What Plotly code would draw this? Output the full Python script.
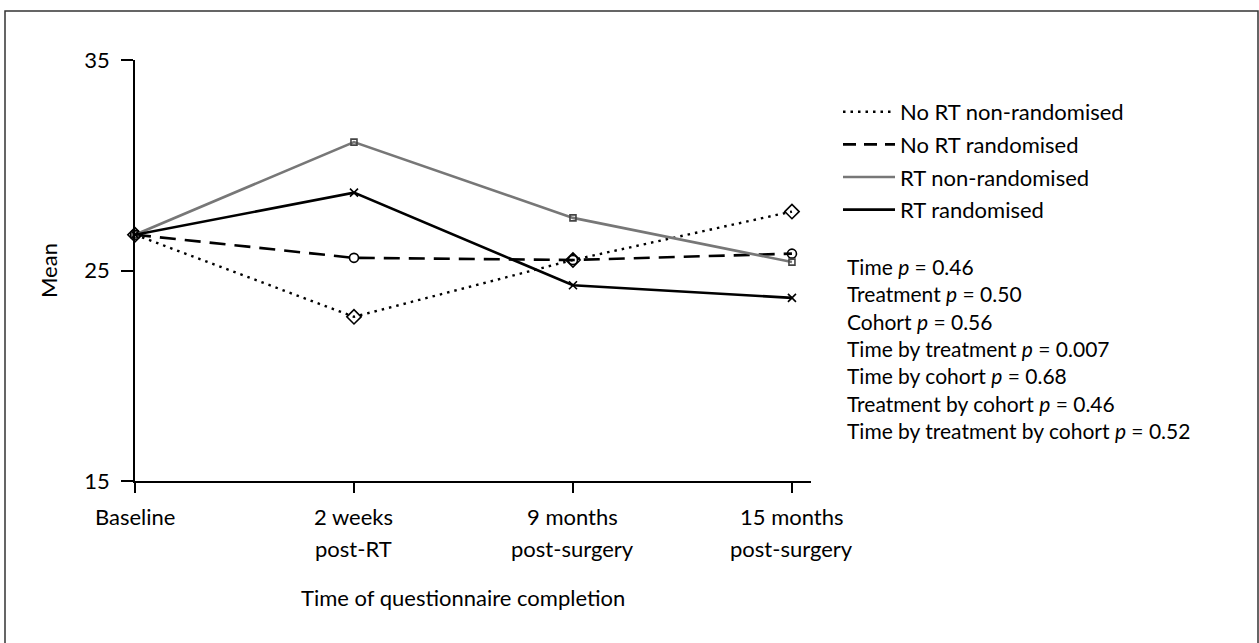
import plotly.graph_objects as go

categories = ["Baseline", "2 weeks<br>post-RT", "9 months<br>post-surgery", "15 months<br>post-surgery"]
series_names = ["No RT non-randomised", "No RT randomised", "RT non-randomised", "RT randomised"]
no_rt_nonrand = [26.7, 22.8, 25.5, 27.8]
no_rt_rand = [26.7, 25.6, 25.5, 25.8]
rt_nonrand = [26.7, 31.1, 27.5, 25.4]
rt_rand = [26.7, 28.7, 24.3, 23.7]
y_ticks = [15, 25, 35]
stats_lines = [
    "Time <i>p</i> = 0.46",
    "Treatment <i>p</i> = 0.50",
    "Cohort <i>p</i> = 0.56",
    "Time by treatment <i>p</i> = 0.007",
    "Time by cohort <i>p</i> = 0.68",
    "Treatment by cohort <i>p</i> = 0.46",
    "Time by treatment by cohort <i>p</i> = 0.52",
]

FONT = "Lato"
FS = 22
W, H = 1259, 643
ML, MR, MT, MB = 135, 448, 60, 162
PW, PH = W - ML - MR, H - MT - MB

def px_x(px):
    return (px - ML) / PW

def px_y(py):
    return (H - MB - py) / PH

styles = [
    dict(line=dict(color="black", width=2.4, dash="2.5px,5px"), symbol="diamond-open", msize=11, mcolor="black"),
    dict(line=dict(color="black", width=2.6, dash="16px,9px"), symbol="circle-open", msize=9, mcolor="black"),
    dict(line=dict(color="#777777", width=2.6), symbol="square-open", msize=6, mcolor="#444444"),
    dict(line=dict(color="black", width=2.6), symbol="x-thin-open", msize=8, mcolor="black"),
]
values = [no_rt_nonrand, no_rt_rand, rt_nonrand, rt_rand]
xs = list(range(len(categories)))

fig = go.Figure()
for name, vals, st in zip(series_names, values, styles):
    fig.add_trace(go.Scatter(
        x=xs, y=vals, mode="lines+markers", name=name, showlegend=False,
        line=st["line"],
        marker=dict(symbol=st["symbol"], size=st["msize"], color=st["mcolor"],
                    line=dict(color=st["mcolor"], width=1.6)),
        cliponaxis=False,
    ))
legend_dash = ["2.5px,5px", "13px,8px", None, None]
for i, (name, st) in enumerate(zip(series_names, styles)):
    ln = dict(st["line"])
    if legend_dash[i]:
        ln["dash"] = legend_dash[i]
    fig.add_trace(go.Scatter(
        x=[None], y=[None], mode="lines", name=name, legendgroup=f"g{i}",
        line=ln, showlegend=True,
    ))

annotations = []
for i, lab in enumerate(categories):
    for j, part in enumerate(lab.split("<br>")):
        annotations.append(dict(
            x=i, y=0, xref="x", yref="paper", text=part, showarrow=False,
            xanchor="center", yanchor="middle", yshift=-35 - 32 * j,
            font=dict(family=FONT, size=FS, color="black"),
        ))
annotations.append(dict(
    x=1.5, y=0, xref="x", yref="paper", text="Time of questionnaire completion",
    showarrow=False, xanchor="center", yanchor="middle", yshift=-116,
    font=dict(family=FONT, size=FS, color="black"),
))
annotations.append(dict(
    x=px_x(845), y=px_y(252), xref="paper", yref="paper",
    text="<br>".join(stats_lines), showarrow=False,
    xanchor="left", yanchor="top", align="left",
    font=dict(family=FONT, size=21, color="black"),
))

fig.update_layout(
    width=W, height=H,
    margin=dict(l=ML, r=MR, t=MT, b=MB),
    paper_bgcolor="white", plot_bgcolor="white",
    font=dict(family=FONT, size=FS, color="black"),
    xaxis=dict(range=[0, 3.087], tickvals=xs, showticklabels=False,
               showline=True, linecolor="black", linewidth=1.5,
               ticks="outside", ticklen=10, tickwidth=1.5, tickcolor="black",
               showgrid=False, zeroline=False, fixedrange=True),
    yaxis=dict(range=[15, 35], tickvals=y_ticks,
               showline=True, linecolor="black", linewidth=1.5,
               ticks="outside", ticklen=12, tickwidth=1.5, tickcolor="black",
               ticklabelstandoff=7,
               showgrid=False, zeroline=False, fixedrange=True,
               title=dict(text="Mean", standoff=21, font=dict(family=FONT, size=FS))),
    legend=dict(x=px_x(838), y=px_y(91), xanchor="left", yanchor="top",
                bgcolor="rgba(0,0,0,0)",
                font=dict(family=FONT, size=FS, color="black"),
                tracegroupgap=1, itemwidth=52),
    annotations=annotations,
    shapes=[dict(type="rect", xref="paper", yref="paper",
                 x0=px_x(5), x1=px_x(1258), y0=px_y(660), y1=px_y(11),
                 line=dict(color="#333333", width=1.5), fillcolor="rgba(0,0,0,0)")],
)

fig.write_html("out.html", config={"displayModeBar": False},
               post_script="document.body.style.margin='0';")
